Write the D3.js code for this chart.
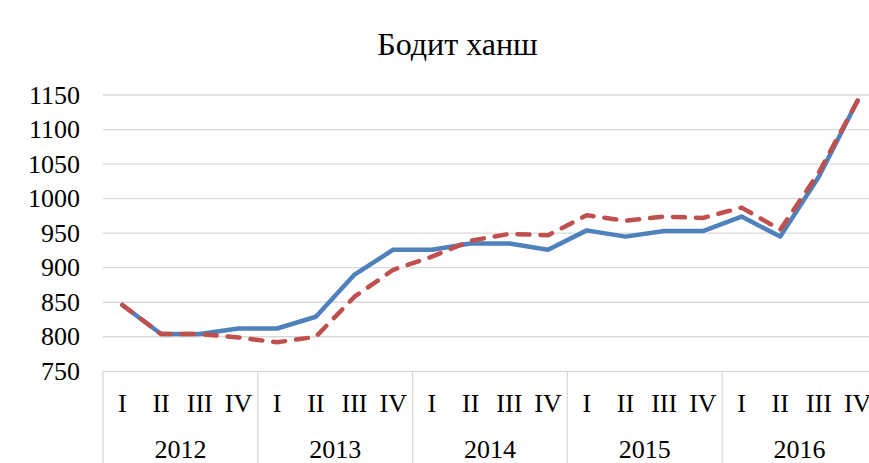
<!DOCTYPE html>
<html>
<head>
<meta charset="utf-8">
<script src="https://cdn.jsdelivr.net/npm/d3@7"></script>
<style>
  html, body { margin: 0; padding: 0; background: #fff; overflow: hidden; }
  svg { display: block; }
  text { font-family: "Liberation Serif", "Times New Roman", serif; fill: #000; }
</style>
</head>
<body>
<svg id="chart" width="869" height="463"></svg>
<script>
const title = "Бодит ханш";
const years = ["2012", "2013", "2014", "2015", "2016"];
const quarters = ["I", "II", "III", "IV"];
const yTicks = [750, 800, 850, 900, 950, 1000, 1050, 1100, 1150];
const seriesSolid = [846, 804, 804, 812, 812, 829, 890, 926, 926, 935, 935, 926, 954, 945, 953, 953, 974, 945, 1032, 1142];
const seriesDashed = [846, 804, 804, 799, 792, 800, 858, 897, 916, 939, 949, 947, 976, 968, 974, 972, 987, 955, 1038, 1142];

(function () {
const categories = [];
years.forEach(y => quarters.forEach(q => categories.push(y + "-" + q)));

const svg = d3.select("#chart");
const W = 869, H = 463;
const mLeft = 103, mRight = 877, mTop = 95, mBottom = 371.3;

const x = d3.scaleBand().domain(categories).range([mLeft, mRight]).padding(0);
const xYear = d3.scaleBand().domain(years).range([mLeft, mRight]).padding(0);
const y = d3.scaleLinear().domain([750, 1150]).range([mBottom, mTop]);

// title
svg.append("text")
  .attr("x", 457.5).attr("y", 55)
  .attr("text-anchor", "middle")
  .style("font-size", "32px")
  .text(title);

// gridlines
svg.append("g").selectAll("line").data(yTicks).join("line")
  .attr("x1", mLeft).attr("x2", W)
  .attr("y1", d => y(d)).attr("y2", d => y(d))
  .attr("stroke", "#d9d9d9").attr("stroke-width", 1.3);

// y labels
svg.append("g").selectAll("text").data(yTicks).join("text")
  .attr("x", 80).attr("y", d => y(d) + 8.6)
  .attr("text-anchor", "end")
  .style("font-size", "26px")
  .text(d => d);

// year separators
const seps = years.map(yr => xYear(yr)).concat([mRight]);
svg.append("g").selectAll("line").data(seps).join("line")
  .attr("x1", d => d).attr("x2", d => d)
  .attr("y1", mBottom).attr("y2", H)
  .attr("stroke", "#d9d9d9").attr("stroke-width", 1.3);

// quarter labels
svg.append("g").selectAll("text").data(categories).join("text")
  .attr("x", d => x(d) + x.bandwidth() / 2).attr("y", 411.7)
  .attr("text-anchor", "middle")
  .style("font-size", "26px")
  .text(d => d.split("-")[1]);

// year labels
svg.append("g").selectAll("text").data(years).join("text")
  .attr("x", d => xYear(d) + xYear.bandwidth() / 2).attr("y", 458.3)
  .attr("text-anchor", "middle")
  .style("font-size", "26px")
  .text(d => d);

const line = d3.line()
  .x((d, i) => x(categories[i]) + x.bandwidth() / 2)
  .y(d => y(d));

svg.append("path").datum(seriesSolid)
  .attr("d", line).attr("fill", "none")
  .attr("stroke", "#4f81bd").attr("stroke-width", 4.5)
  .attr("stroke-linejoin", "round").attr("stroke-linecap", "round");

svg.append("path").datum(seriesDashed)
  .attr("d", line).attr("fill", "none")
  .attr("stroke", "#c0504d").attr("stroke-width", 4.5)
  .attr("stroke-dasharray", "12,11")
  .attr("stroke-linejoin", "round").attr("stroke-linecap", "round");
})();
</script>
</body>
</html>
